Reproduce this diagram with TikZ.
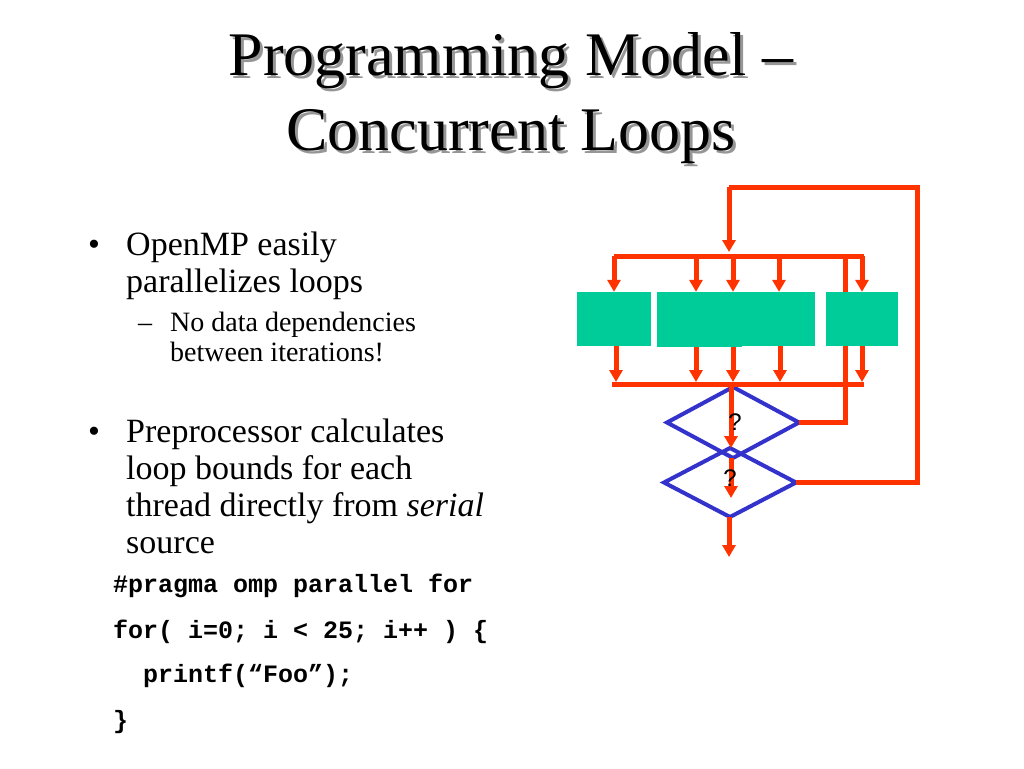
\documentclass[tikz,border=0pt]{standalone}
\usepackage{fontspec}
\setmainfont{Liberation Serif}
\newfontfamily\codefont{Liberation Mono}
\newfontfamily\qfont{Liberation Sans}
\usetikzlibrary{arrows.meta,shapes.geometric}
\definecolor{oRed}{RGB}{255,51,0}
\definecolor{boxTeal}{RGB}{0,204,153}
\definecolor{dBlue}{RGB}{51,51,204}
\definecolor{shadowGray}{RGB}{150,150,150}
\tikzset{
  titletext/.style={anchor=base,inner sep=0pt,font=\fontsize{62}{75}\selectfont},
  bodytext/.style={anchor=base west,inner sep=0pt,font=\fontsize{34}{37}\selectfont},
  subtext/.style={anchor=base west,inner sep=0pt,font=\fontsize{28}{30}\selectfont},
  codetext/.style={anchor=base west,inner sep=0pt,font=\codefont\bfseries\fontsize{25}{30}\selectfont},
  thread/.style={rectangle,fill=boxTeal,draw=none,inner sep=0pt},
  decision/.style={diamond,draw=dBlue,line width=4pt,inner sep=0pt,outer sep=0pt},
  qmark/.style={inner sep=0pt,font=\qfont\fontsize{24}{24}\selectfont},
  flow/.style={draw=oRed,line width=5pt,line join=miter},
  flowarr/.style={flow,-{Triangle[width=13pt,length=12pt]}},
}
\begin{document}
\begin{tikzpicture}[x=1pt,y=-1pt]
\useasboundingbox (0,0) rectangle (1024,768);
\fill[white] (0,0) rectangle (1024,768);

% title with shadow
\node[titletext,text=shadowGray] (t1s) at (514,78) {Programming Model –};
\node[titletext,text=shadowGray] (t2s) at (514,153) {Concurrent Loops};
\node[titletext] (t1) at (511,75) {Programming Model –};
\node[titletext] (t2) at (511,150) {Concurrent Loops};

% bullets
\node[bodytext] (bu1) at (88,255) {•};
\node[bodytext] (l1) at (126,255) {OpenMP easily};
\node[bodytext] (l2) at (126,292) {parallelizes loops};
\node[subtext] (su1) at (138,331) {–};
\node[subtext] (s1) at (170,331) {No data dependencies};
\node[subtext] (s2) at (170,361) {between iterations!};
\node[bodytext] (bu2) at (88,442) {•};
\node[bodytext] (l3) at (126,442) {Preprocessor calculates};
\node[bodytext] (l4) at (126,479) {loop bounds for each};
\node[bodytext] (l5) at (126,516) {thread directly from \textit{serial}};
\node[bodytext] (l6) at (126,553) {source};

% code
\node[codetext] (c1) at (113,592) {\#pragma omp parallel for};
\node[codetext] (c2) at (113,638) {for( i=0; i < 25; i++ ) \{};
\node[codetext] (c3) at (143,682) {printf(“Foo”);};
\node[codetext] (c4) at (113,728) {\}};

% decisions
\node[decision,minimum width=132pt,minimum height=71pt] (d1) at (733,422.5) {};
\node[decision,minimum width=132pt,minimum height=69pt] (d2) at (730,482.5) {};

% coordinates
\coordinate (tbl) at (614,256);
\coordinate (tbr) at (864,256);
\coordinate (tb2) at (696,256);
\coordinate (tb3) at (733,256);
\coordinate (tb4) at (779,256);
\coordinate (tb5) at (862,256);
\coordinate (tbx) at (845,256);
\coordinate (bbl) at (612,384);
\coordinate (bbr) at (864,384);
\coordinate (bb1) at (616,382);
\coordinate (bb2) at (696,382);
\coordinate (bb3) at (733,382);
\coordinate (bb4) at (780,382);
\coordinate (bb5) at (862,382);
\coordinate (bbc) at (731,384);
\coordinate (otr) at (917,187);
\coordinate (otl) at (729,187);
\coordinate (ojoin) at (729,252);
\coordinate (d2in) at (731,498);
\coordinate (exit) at (729,557);

% flow lines
\draw[flow] (d1.east) -| (tbx);
\draw[flow] (d2.east) -| (otr) -- (otl);
\draw[flowarr] (otl) -- (ojoin);
\draw[flow] (tbl) -- (tbr);
\draw[flow] (bbl) -- (bbr);

% threads
\node[thread,minimum width=74pt,minimum height=54pt] (b1) at (614,319) {};
\node[thread,minimum width=85pt,minimum height=55pt] (b2) at (699.5,319.5) {};
\node[thread,minimum width=73pt,minimum height=54pt] (b3) at (778.5,319) {};
\node[thread,minimum width=72pt,minimum height=54pt] (b4) at (862,319) {};

% fork arrows
\draw[flowarr] (tbl) -- (tbl |- b1.north);
\draw[flowarr] (tb2) -- (tb2 |- b2.north);
\draw[flowarr] (tb3) -- (tb3 |- b2.north);
\draw[flowarr] (tb4) -- (tb4 |- b3.north);
\draw[flowarr] (tb5) -- (tb5 |- b4.north);

% join arrows
\draw[flowarr] (bb1 |- b1.south) -- (bb1);
\draw[flowarr] (bb2 |- b2.south) -- (bb2);
\draw[flowarr] (bb3 |- b2.south) -- (bb3);
\draw[flowarr] (bb4 |- b3.south) -- (bb4);
\draw[flowarr] (bb5 |- b4.south) -- (bb5);

% central flow
\draw[flowarr] (bbc) -- (bbc |- d2.north);
\draw[flowarr] (d2in |- d1.south) -- (d2in);
\draw[flowarr] (exit |- d2.south) -- (exit);

% question marks
\node[qmark] (q1) at (735,422) {?};
\node[qmark] (q2) at (730,478) {?};
\end{tikzpicture}
\end{document}
